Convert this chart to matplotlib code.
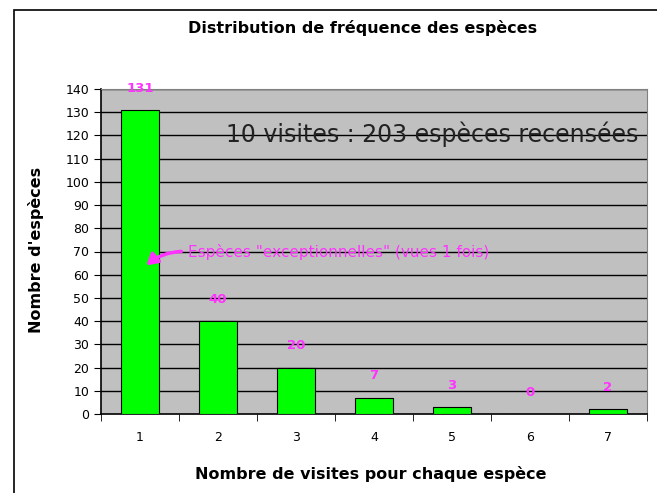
import matplotlib.pyplot as plt
from matplotlib.patches import Rectangle

# Data
visits = [1, 2, 3, 4, 5, 6, 7]
species_counts = [131, 40, 20, 7, 3, 0, 2]
y_ticks = list(range(0, 141, 10))

fig = plt.figure(figsize=(6.57, 4.93), dpi=100)
fig.patch.set_facecolor('white')

# Outer chart frame (Excel style)
fig.patches.append(Rectangle((14 / 657, -0.02), 1.0, 1 - 10 / 493 + 0.02,
                             transform=fig.transFigure, fill=False,
                             edgecolor='black', linewidth=1.2))

ax = fig.add_axes([101 / 657, 1 - 414 / 493, 546 / 657, 325 / 493])
ax.set_facecolor('#c0c0c0')

# Gridlines
for y in y_ticks[1:]:
    ax.axhline(y, color='black', linewidth=1.0, zorder=1)

ax.bar(visits, species_counts, width=0.48, color='#00ff00',
       edgecolor='black', linewidth=0.8, zorder=3)

# Value labels above bars
for x, v in zip(visits, species_counts):
    ax.annotate(str(v), xy=(x, v), xytext=(0, 11), textcoords='offset points',
                ha='center', va='bottom', color='#ff33ff',
                fontsize=9.5, fontweight='bold', zorder=4, annotation_clip=False)

ax.set_xlim(0.5, 7.5)
ax.set_ylim(0, 140)
ax.set_yticks(y_ticks)
ax.set_xticks(visits)
ax.set_xticks([x + 0.5 for x in [0] + visits], minor=True)
ax.tick_params(axis='x', which='major', length=0, pad=12, labelsize=9)
ax.tick_params(axis='x', which='minor', length=5, direction='out')
ax.tick_params(axis='y', length=5, direction='out', labelsize=9)

for side in ['top', 'right']:
    ax.spines[side].set_color('#808080')
ax.spines['left'].set_linewidth(1.2)
ax.spines['bottom'].set_linewidth(1.2)

ax.text(0.985, 0.86, '10 visites : 203 espèces recensées', transform=ax.transAxes,
        ha='right', va='center', fontsize=17, color='#222222', zorder=4)

ax.annotate('Espèces "exceptionnelles" (vues 1 fois)', xy=(1.08, 64), xytext=(1.62, 70),
            color='#ff33ff', fontsize=11, va='center', ha='left', zorder=5,
            arrowprops=dict(arrowstyle='-|>,head_length=0.6,head_width=0.35',
                            color='#ff33ff', linewidth=2.5,
                            shrinkA=3, shrinkB=0, relpos=(0, 0.5),
                            connectionstyle='arc3,rad=0.2'))

fig.text(363 / 657, 1 - 28 / 493, 'Distribution de fréquence des espèces',
         ha='center', va='center', fontsize=11.5, fontweight='bold')
fig.text(371 / 657, 1 - 474 / 493, 'Nombre de visites pour chaque espèce',
         ha='center', va='center', fontsize=11.5, fontweight='bold')
fig.text(36 / 657, 1 - 250 / 493, "Nombre d'espèces", rotation=90,
         ha='center', va='center', fontsize=11.5, fontweight='bold')

fig.savefig('out.png', dpi=100)
